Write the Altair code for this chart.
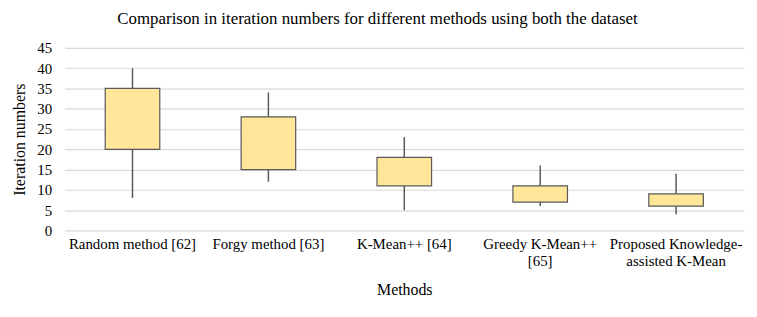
import altair as alt
import pandas as pd

methods = ["Random method [62]", "Forgy method [63]", "K-Mean++ [64]",
           "Greedy K-Mean++|[65]", "Proposed Knowledge-|assisted K-Mean"]
whisker_low = [8, 12, 5, 6, 4]
box_low = [20, 15, 11, 7, 6]
box_high = [35, 28, 18, 11, 9]
whisker_high = [40, 34, 23, 16, 14]
y_ticks = [0, 5, 10, 15, 20, 25, 30, 35, 40, 45]

df = pd.DataFrame({
    "method": methods,
    "wlo": whisker_low,
    "q1": box_low,
    "q3": box_high,
    "whi": whisker_high,
})

FONT = "Liberation Serif"

x = alt.X("method:N", sort=methods, title="Methods",
          scale=alt.Scale(paddingInner=0, paddingOuter=0),
          axis=alt.Axis(labelExpr="split(datum.label, '|')", labelAngle=0,
                        labelFontSize=15, labelLineHeight=17, labelPadding=6,
                        titleFontSize=16, titlePadding=14, titleFontWeight="normal",
                        domain=False, ticks=False, labelColor="#000", titleColor="#000",
                        labelFont=FONT, titleFont=FONT))
yscale = alt.Scale(domain=[0, 45], nice=False)
yaxis = alt.Axis(values=y_ticks, domain=False, ticks=False, grid=True,
                 gridColor="#d9d9d9", gridWidth=1.2, labelOverlap=False,
                 labelFontSize=15, titleFontSize=16, titleFontWeight="normal",
                 labelColor="#000", titleColor="#000", labelPadding=13,
                 titlePadding=9, labelFont=FONT, titleFont=FONT)

rule = alt.Chart(df).mark_rule(color="#595959", strokeWidth=1.5).encode(
    x=x,
    y=alt.Y("wlo:Q", scale=yscale, title="Iteration numbers", axis=yaxis),
    y2="whi:Q",
)

box = alt.Chart(df).mark_bar(size=55, color="#ffe699", stroke="#595959",
                             strokeWidth=1.2).encode(
    x=x,
    y=alt.Y("q1:Q", scale=yscale, title="Iteration numbers", axis=yaxis),
    y2="q3:Q",
)

chart = alt.layer(rule, box).properties(
    width=685, height=184,
    title=alt.TitleParams("Comparison in iteration numbers for different methods using both the dataset",
                          fontSize=17, fontWeight="normal", font=FONT, color="#000",
                          anchor="middle", dx=-27, offset=13),
    autosize=alt.AutoSizeParams(type="none"),
    padding={"left": 57, "top": 39, "right": 5, "bottom": 80},
).configure_view(stroke=None)

chart.save("out.html", embed_options={"renderer": "svg", "actions": False})
